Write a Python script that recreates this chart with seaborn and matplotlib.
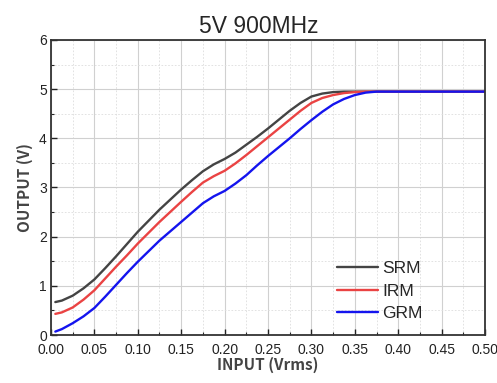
import numpy as np
import pandas as pd
import seaborn as sns
import matplotlib.pyplot as plt
from matplotlib.ticker import MultipleLocator

# input voltage (Vrms)
vin = [0.005, 0.0125, 0.025, 0.0375, 0.05, 0.0625, 0.075, 0.0875, 0.10, 0.125,
       0.15, 0.1625, 0.175, 0.1875, 0.20, 0.2125, 0.225, 0.2375, 0.25, 0.2625,
       0.275, 0.2875, 0.30, 0.3125, 0.325, 0.3375, 0.35, 0.3625, 0.375, 0.3875,
       0.40, 0.45, 0.50]

# output voltage (V)
srm = [0.67, 0.70, 0.80, 0.95, 1.13, 1.36, 1.60, 1.85, 2.10, 2.55,
       2.96, 3.15, 3.33, 3.47, 3.58, 3.71, 3.87, 4.03, 4.20, 4.38,
       4.56, 4.72, 4.85, 4.91, 4.94, 4.95, 4.95, 4.95, 4.95, 4.95,
       4.95, 4.95, 4.95]
irm = [0.43, 0.46, 0.56, 0.72, 0.91, 1.15, 1.39, 1.62, 1.86, 2.30,
       2.71, 2.91, 3.10, 3.23, 3.34, 3.49, 3.66, 3.84, 4.02, 4.20,
       4.38, 4.56, 4.72, 4.82, 4.88, 4.92, 4.94, 4.95, 4.95, 4.95,
       4.95, 4.95, 4.95]
grm = [0.07, 0.12, 0.24, 0.38, 0.55, 0.78, 1.02, 1.26, 1.49, 1.92,
       2.30, 2.49, 2.68, 2.82, 2.93, 3.08, 3.25, 3.45, 3.64, 3.82,
       4.00, 4.19, 4.37, 4.54, 4.69, 4.80, 4.88, 4.93, 4.95, 4.95,
       4.95, 4.95, 4.95]

names = ["SRM", "IRM", "GRM"]
colors = {"SRM": "#444444", "IRM": "#ea4343", "GRM": "#1414ee"}

df = pd.concat([
    pd.DataFrame({"vin": vin, "vout": v, "model": n})
    for n, v in zip(names, [srm, irm, grm])
])

sns.set_style("ticks")
plt.rcParams["font.family"] = ["Liberation Sans", "DejaVu Sans"]

fig = plt.figure(figsize=(4.97, 3.83), dpi=100)
ax = fig.add_axes([0.1026, 0.1253, 0.8733, 0.7703])

sns.lineplot(data=df, x="vin", y="vout", hue="model", hue_order=names,
             palette=colors, linewidth=1.7, ax=ax, legend=True)

ax.set_xlim(0, 0.5)
ax.set_ylim(0, 6)
ax.xaxis.set_major_locator(MultipleLocator(0.05))
ax.xaxis.set_minor_locator(MultipleLocator(0.025))
ax.yaxis.set_major_locator(MultipleLocator(1))
ax.yaxis.set_minor_locator(MultipleLocator(0.5))
ax.set_xticklabels([f"{t:.2f}" for t in ax.get_xticks()])

ax.grid(which="major", color="#d0d0d0", linewidth=0.8)
ax.grid(which="minor", color="#dddddd", linewidth=0.6, linestyle=(0, (2, 2)))
ax.set_axisbelow(True)

ax.tick_params(which="major", direction="in", length=4, width=1, labelsize=10,
               pad=3, colors="#222222")
ax.tick_params(axis="x", which="major", pad=5.5)
ax.tick_params(which="minor", direction="in", length=2.5, width=0.8)
for s in ax.spines.values():
    s.set_linewidth(1.3)
    s.set_color("#333333")

ax.set_title("5V 900MHz", fontsize=16.5, pad=5, x=0.478)
lab_font = dict(family=["Noto Sans CJK SC", "DejaVu Sans"], fontsize=11,
                fontweight="bold", color="#444444")
ax.set_xlabel("INPUT (Vrms)", labelpad=0, **lab_font)
ax.set_ylabel("OUTPUT (V)", labelpad=4, **lab_font)

handles, labels = ax.get_legend_handles_labels()
ax.legend(handles, labels, loc="lower right", bbox_to_anchor=(0.885, 0.005),
          frameon=False, fontsize=12.5, handlelength=2.4, handletextpad=0.25,
          labelspacing=0.42, borderaxespad=0.3)

fig.savefig("out.png", dpi=100)
